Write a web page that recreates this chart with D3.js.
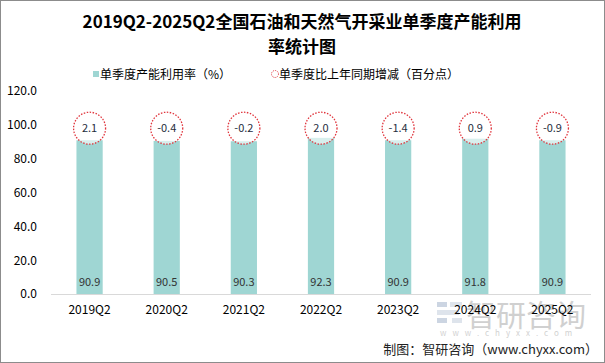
<!DOCTYPE html>
<html>
<head>
<meta charset="utf-8">
<script src="https://cdn.jsdelivr.net/npm/d3@7"></script>
<style>
body{margin:0;background:#fff;font-family:"Noto Sans CJK SC","Noto Sans",sans-serif;}
</style>
</head>
<body>
<script>
var categories=['2019Q2','2020Q2','2021Q2','2022Q2','2023Q2','2024Q2','2025Q2'];
var rateValues=[90.9,90.5,90.3,92.3,90.9,91.8,90.9];
var changeValues=['2.1','-0.4','-0.2','2.0','-1.4','0.9','-0.9'];
var yTicks=[0,20,40,60,80,100,120];

var width=605,height=363;
var svg=d3.select('body').append('svg')
.attr('width',width)
.attr('height',height);

svg.append('rect')
.attr('x',0.5).attr('y',0.5)
.attr('width',width-1).attr('height',height-1)
.style('fill','#fff')
.style('stroke','#8c8c8c');

// watermark (behind everything)
var wm=svg.append('g').style('opacity',0.45);
wm.append('rect').attr('x',437).attr('y',302).attr('width',10).attr('height',5).style('fill','#8fa3bf');
wm.append('rect').attr('x',437).attr('y',310).attr('width',22).attr('height',5).style('fill','#b8c4d6');
wm.append('rect').attr('x',437).attr('y',318).attr('width',10).attr('height',5).style('fill','#8fa3bf');
wm.append('rect').attr('x',450).attr('y',302).attr('width',12).attr('height',5).style('fill','#b8c4d6');
wm.append('rect').attr('x',452).attr('y',318).attr('width',10).attr('height',5).style('fill','#b8c4d6');
wm.append('text').attr('x',466).attr('y',326).style('font-size','30px').style('fill','#999').text('智研咨询');
wm.append('text').attr('x',440).attr('y',336).style('font-size','8px').style('letter-spacing','6px').style('fill','#999').text('www.chyxx.com');

// title
var title=svg.append('text')
.attr('text-anchor','middle')
.style('font-size','17px')
.style('font-weight','bold')
.style('fill','#000');
title.append('tspan').attr('x',302).attr('y',28).text('2019Q2-2025Q2全国石油和天然气开采业单季度产能利用');
title.append('tspan').attr('x',302).attr('y',53).text('率统计图');

// legend
var legend=svg.append('g').style('font-size','12px').style('fill','#000');
legend.append('rect').attr('x',93).attr('y',71).attr('width',6).attr('height',6).style('fill','#9fd6d3');
legend.append('text').attr('x',100).attr('y',79).text('单季度产能利用率（%）');
legend.append('circle').attr('cx',275).attr('cy',74).attr('r',3.5)
.style('fill','none').style('stroke','#e0343c').style('stroke-dasharray','1,1');
legend.append('text').attr('x',279).attr('y',79).text('单季度比上年同期增减（百分点）');

var x=d3.scaleBand().domain(categories).range([51,591]).paddingInner(0.66).paddingOuter(0.33);
var y=d3.scaleLinear().domain([0,120]).range([294,91]);

var yAxis=d3.axisLeft(y).tickValues(yTicks).tickSize(0).tickFormat(d3.format('.1f'));
var gy=svg.append('g').attr('transform','translate(40,0)').call(yAxis);
gy.select('.domain').remove();
gy.selectAll('text').style('font-size','12px').style('fill','#000').style('font-family','"Noto Sans CJK SC"');

var bars=svg.append('g');
bars.selectAll('rect')
.data(rateValues)
.enter()
.append('rect')
.attr('x',(d,i)=>x(categories[i]))
.attr('width',x.bandwidth())
.attr('y',d=>y(d))
.attr('height',d=>y(0)-y(d))
.style('fill','#9fd6d3');

svg.append('line')
.attr('x1',51).attr('x2',591)
.attr('y1',y(0)+0.5).attr('y2',y(0)+0.5)
.style('stroke','#d9d9d9');

var xAxis=d3.axisBottom(x).tickSize(0).tickPadding(11);
var gx=svg.append('g').attr('transform','translate(0,'+y(0)+')').call(xAxis);
gx.select('.domain').remove();
gx.selectAll('text').style('font-size','12px').style('fill','#000').style('font-family','"Noto Sans CJK SC"');

// value labels
svg.append('g').selectAll('text')
.data(rateValues)
.enter()
.append('text')
.attr('x',(d,i)=>x(categories[i])+x.bandwidth()/2)
.attr('y',y(0)-8)
.attr('text-anchor','middle')
.style('font-size','11px')
.style('fill','#333')
.text(d=>d.toFixed(1));

// change bubbles
var bub=svg.append('g').selectAll('g')
.data(changeValues)
.enter()
.append('g')
.attr('transform',(d,i)=>'translate('+(x(categories[i])+x.bandwidth()/2)+','+y(98)+')');
bub.append('circle').attr('r',16)
.style('fill','#fff').style('fill-opacity',0.6)
.style('stroke','#e0343c').style('stroke-width',1.3).style('stroke-dasharray','1.5,1.5');
bub.append('text')
.attr('text-anchor','middle')
.attr('dy','0.36em')
.style('font-size','11px')
.style('fill','#1f2d3d')
.text(d=>d);

svg.append('text')
.attr('x',598).attr('y',354)
.attr('text-anchor','end')
.style('font-size','13px')
.style('fill','#222')
.text('制图：智研咨询（www.chyxx.com）');
</script>
</body>
</html>
